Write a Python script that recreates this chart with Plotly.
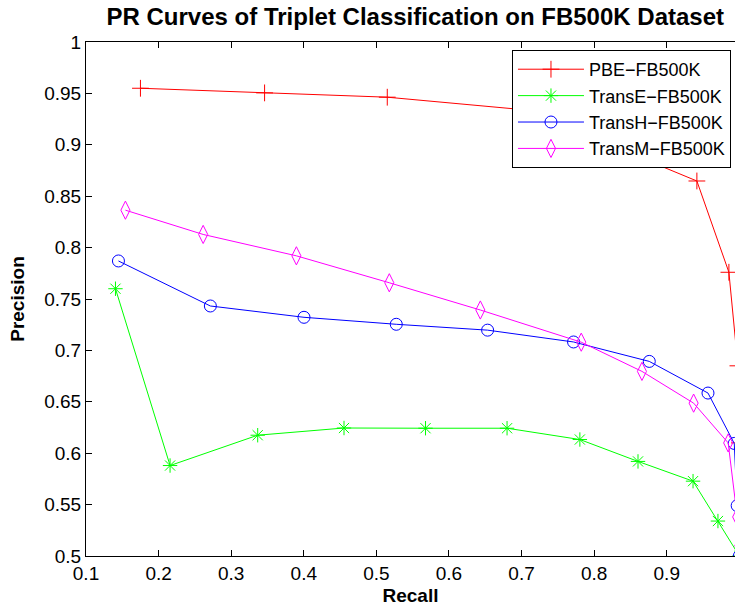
import plotly.graph_objects as go

# Data
pbe_recall = [0.175, 0.346, 0.515, 0.705, 0.9415, 0.9856, 0.998, 1.0]
pbe_prec = [0.955, 0.9505, 0.9463, 0.934, 0.8648, 0.776, 0.685, 0.61]

transe_recall = [0.1406, 0.2158, 0.3365, 0.4554, 0.5677, 0.680, 0.7803, 0.8604, 0.9362, 0.9705, 1.0]
transe_prec = [0.760, 0.588, 0.6175, 0.6245, 0.6243, 0.6243, 0.6133, 0.592, 0.5728, 0.534, 0.5]

transh_recall = [0.1447, 0.2713, 0.4003, 0.5274, 0.6532, 0.7716, 0.8759, 0.9568, 0.993, 0.997, 1.0]
transh_prec = [0.787, 0.7432, 0.7322, 0.7254, 0.7197, 0.7082, 0.6893, 0.6585, 0.6095, 0.549, 0.5]

transm_recall = [0.1543, 0.2614, 0.3898, 0.5178, 0.6432, 0.7822, 0.8658, 0.937, 0.9846, 0.997, 1.0]
transm_prec = [0.8364, 0.8128, 0.792, 0.7658, 0.7393, 0.708, 0.6796, 0.6487, 0.610, 0.538, 0.51]

series = [
    ("PBE\u2212FB500K", pbe_recall, pbe_prec, "#ff0000", "cross-thin-open", 12),
    ("TransE\u2212FB500K", transe_recall, transe_prec, "#00ff00", "asterisk-open", 12),
    ("TransH\u2212FB500K", transh_recall, transh_prec, "#0000ff", "circle-open", 12),
    ("TransM\u2212FB500K", transm_recall, transm_prec, "#ff00ff", "diamond-tall-open", 13),
]

x_ticks = [0.1, 0.2, 0.3, 0.4, 0.5, 0.6, 0.7, 0.8, 0.9, 1.0]
x_tick_text = ["0.1", "0.2", "0.3", "0.4", "0.5", "0.6", "0.7", "0.8", "0.9", "1"]
y_ticks = [0.5, 0.55, 0.6, 0.65, 0.7, 0.75, 0.8, 0.85, 0.9, 0.95, 1.0]
y_tick_text = ["0.5", "0.55", "0.6", "0.65", "0.7", "0.75", "0.8", "0.85", "0.9", "0.95", "1"]

FONT = "Liberation Sans, Arial, Helvetica, sans-serif"

fig = go.Figure()
for name, xs, ys, color, sym, size in series:
    fig.add_trace(go.Scatter(
        x=xs, y=ys, mode="lines+markers", name=name,
        line=dict(color=color, width=1),
        marker=dict(symbol=sym, size=size, color=color,
                    line=dict(color=color, width=1)),
        cliponaxis=True,
    ))

fig.update_layout(
    width=735, height=611,
    margin=dict(l=86, r=0, t=42, b=55, autoexpand=False),
    paper_bgcolor="white", plot_bgcolor="white",
    font=dict(family=FONT, size=19, color="black"),
    title=dict(text="<b>PR Curves of Triplet Classification on FB500K Dataset</b>",
               x=0.565, xanchor="center", y=1 - 17 / 611, yanchor="middle",
               yref="container", font=dict(size=24, family=FONT, color="black")),
    legend=dict(x=0.9938, xanchor="right", y=0.9844, yanchor="top",
                bgcolor="white", bordercolor="black", borderwidth=1,
                font=dict(size=18, family=FONT), itemwidth=66,
                tracegroupgap=0),
    showlegend=True,
)
fig.update_xaxes(
    range=[0.1, 0.994], tickvals=x_ticks, ticktext=x_tick_text,
    ticks="inside", ticklen=6, tickcolor="black", tickwidth=1,
    showline=True, linecolor="black", linewidth=1, mirror="ticks",
    showgrid=False, zeroline=False, automargin=False,
    title=dict(text="<b>Recall</b>", font=dict(size=19, family=FONT), standoff=5),
    tickfont=dict(size=19, family=FONT),
)
fig.update_yaxes(
    range=[0.5, 1.0], tickvals=y_ticks, ticktext=y_tick_text,
    ticks="inside", ticklen=6, tickcolor="black", tickwidth=1,
    showline=True, linecolor="black", linewidth=1, mirror=False,
    showgrid=False, zeroline=False, automargin=False,
    title=dict(text="<b>Precision</b>", font=dict(size=19, family=FONT), standoff=14),
    tickfont=dict(size=19, family=FONT),
)

fig.write_html(
    "out.html",
    config={"displayModeBar": False},
    post_script="document.body.style.margin='0px';document.body.style.overflow='hidden';",
)
